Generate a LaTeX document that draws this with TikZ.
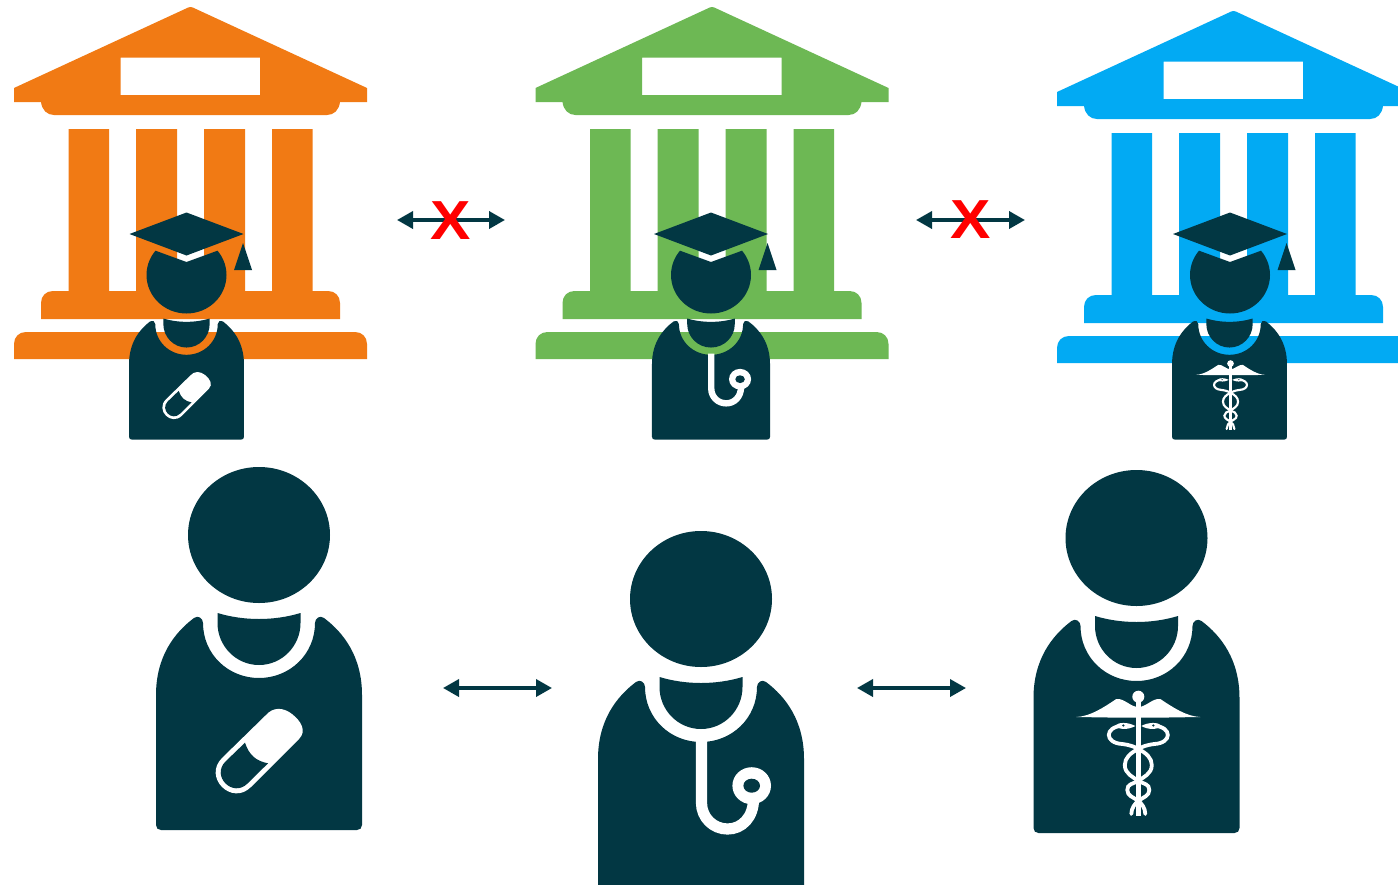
\documentclass[tikz,border=0pt]{standalone}
\usepackage{fontspec}
\usetikzlibrary{arrows.meta}
\newfontfamily\crossfont{Liberation Sans}[BoldFont={Liberation Sans Bold}]
\definecolor{ink}{HTML}{023743}
\definecolor{orangeb}{HTML}{F17A14}
\definecolor{greenb}{HTML}{6DB854}
\definecolor{blueb}{HTML}{02AAF3}
\tikzset{
  link/.style={draw=ink,line width=1.8pt,{Triangle[length=8pt,width=8.5pt]}-{Triangle[length=8pt,width=8.5pt]}},
  crossmark/.style={text=red,inner sep=0pt,font=\crossfont\bfseries\fontsize{27.5}{27.5}\selectfont,xscale=1.1,transform shape}
}
% building in the coordinates of the first one
\newcommand{\temple}[3]{%
\begin{scope}[shift={(#1,#2)}]
\fill[#3] (190.5,7) .. controls (192,7) and (194,8) .. (196,9) -- (367,88) -- (367,102) -- (340,102)
  .. controls (339,110) and (334,115) .. (327,115) -- (54,115) .. controls (47,115) and (42,110) .. (41,102)
  -- (14,102) -- (14,88) -- (185,9) .. controls (187,8) and (189,7) .. (190.5,7) -- cycle
  (120.5,57.5) -- (120.5,95) -- (260,95) -- (260,57.5) -- cycle;
\fill[#3] (68.5,129) rectangle (109,292) (136,129) rectangle (177,292)
  (204,129) rectangle (245,292) (272,129) rectangle (312.5,292);
\fill[#3] (41,319) -- (41,303) .. controls (41,296) and (46,291) .. (53,291) -- (328,291)
  .. controls (335,291) and (340,296) .. (340,303) -- (340,319) -- cycle;
\fill[#3] (14,359) -- (14,344) .. controls (14,337) and (19,332) .. (26,332) -- (355,332)
  .. controls (362,332) and (367,337) .. (367,344) -- (367,359) -- cycle;
\end{scope}}
% torso with neck, origin at the centre of the head
\newcommand{\torso}{%
\fill[ink] (-103,290) -- (-103,160) .. controls (-103,122) and (-85,98) .. (-65,83)
  .. controls (-61,80) and (-56,83) .. (-56,88)
  .. controls (-56,119) and (-31,143) .. (0,143) .. controls (31,143) and (56,119) .. (56,88)
  .. controls (56,83) and (61,80) .. (65,83)
  .. controls (85,98) and (103,122) .. (103,160) -- (103,290)
  .. controls (103,293) and (101,295) .. (98,295) -- (-98,295)
  .. controls (-101,295) and (-103,293) .. (-103,290) -- cycle;
\fill[ink] (-41.5,78) .. controls (-15,86) and (15,86) .. (41.5,78) -- (41.5,88)
  .. controls (41.5,111) and (23,130) .. (0,130) .. controls (-23,130) and (-41.5,111) .. (-41.5,88) -- cycle;}
\newcommand{\bighead}{\fill[ink] (0,0) ellipse[x radius=71,y radius=68];}
% pill, stethoscope, caduceus in torso coordinates (scale in #1)
\newcommand{\pill}{%
\fill[white] (-8,252) -- (40,204) .. controls (48,196) and (42,186) .. (33,179)
  .. controls (24,172) and (14,172) .. (7,180)
  -- (-37,223) .. controls (-56.3,242.3) and (-27.3,271.3) .. (-8,252) -- cycle;
\fill[ink] (9,228.3) -- (-11.5,248.5) .. controls (-26.1,263.1) and (-48.1,241.1) .. (-33.5,226.5)
  -- (-14,207.7) .. controls (-10,220) and (-3,226) .. (9,228.3) -- cycle;}
\newcommand{\stetho}[1]{%
\draw[white,line width={#1*5.6pt}] (0.5,141) -- (0.5,204)
  .. controls (0.5,218.4) and (12.1,230) .. (26.5,230)
  .. controls (40.9,230) and (52.5,218.4) .. (52.5,200);
\fill[white] (50.7,186.7) ellipse[x radius=19.3,y radius=18.5];
\fill[ink] (50.7,186.7) ellipse[x radius=8.3,y radius=7];}
\newcommand{\snake}[1]{%
\draw[white,line width={#1*1.9pt},line cap=round] (-16,187.7)
  .. controls (-34,189) and (-34,205) .. (-16,206)
  .. controls (-8,207) and (-3,209) .. (0,211)
  .. controls (8,215) and (13.5,220) .. (13.5,227)
  .. controls (13.5,236) and (5,239) .. (0,243)
  .. controls (-6,246) and (-11,246) .. (-11,252)
  .. controls (-11,258) and (-5,259) .. (0,263)
  .. controls (3,265) and (7,270) .. (7,276);
\fill[white] (-23,187.5) .. controls (-20,184) and (-10,184) .. (-3,188)
  .. controls (-10,192) and (-20,192) .. (-23,187.5) -- cycle;
\fill[ink] (-15,187.5) ellipse[x radius=1.2,y radius=1.2];
\fill[white] (-62,179) .. controls (-48,178.5) and (-34,169) .. (-22,161)
  .. controls (-14,160) and (-8,169) .. (0,169) -- (0,179.5) -- (-30,179.5) -- cycle;}
\newcommand{\caduceus}[1]{%
\begin{scope}[shift={(1.8,0)}]
\snake{#1}
\begin{scope}[xscale=-1]\snake{#1}\end{scope}
\draw[white,line width={#1*2.2pt}] (0,160) -- (0,278);
\fill[white] (0,158.7) ellipse[x radius=6,y radius=6];
\end{scope}}
% mortarboard head of the small figures
\newcommand{\gradhead}[2]{%
\begin{scope}[shift={(#1,#2)}]
\begin{scope}
\clip (0,-13) -- (85,-44) -- (85,65) -- (-85,65) -- (-85,-44) -- cycle;
\fill[ink] (0,0) ellipse[x radius=40,y radius=38.5];
\end{scope}
\fill[ink] (-57,-41) -- (0,-62.5) -- (57,-41) -- (0,-19.5) -- cycle;
\fill[ink] (56.5,-32) -- (47.5,-5) -- (65.5,-5) -- cycle;
\end{scope}}
\begin{document}
\begin{tikzpicture}[x=0.5pt,y=-0.5pt]
\useasboundingbox (0,0) rectangle (1398,884);
\fill[white] (0,0) rectangle (1398,884);
\clip (0,0) rectangle (1398,884);
% buildings
\temple{0}{0}{orangeb}
\temple{521.5}{0}{greenb}
\temple{1043}{4}{blueb}
% small figures
\begin{scope}[shift={(186.5,275)},scale=0.558]\torso\pill\end{scope}
\gradhead{186.5}{275}
\begin{scope}[shift={(711,275)},xscale=0.573,yscale=0.558]\torso\stetho{0.57}\end{scope}
\gradhead{711}{275}
\begin{scope}[shift={(1229.5,275)},scale=0.558]\torso\caduceus{0.558}\end{scope}
\gradhead{1230}{275}
% large figures
\begin{scope}[shift={(259,535)}]\bighead\torso\pill\end{scope}
\begin{scope}[shift={(701,599)}]\bighead\torso\stetho{1}\end{scope}
\begin{scope}[shift={(1136.5,538)}]\bighead\torso\caduceus{1}\end{scope}
% connectors
\coordinate (t1a) at (397,220);
\coordinate (t1b) at (505,220);
\coordinate (t2a) at (916,220);
\coordinate (t2b) at (1025,220);
\coordinate (b1a) at (443,688);
\coordinate (b1b) at (552,688);
\coordinate (b2a) at (857,688);
\coordinate (b2b) at (966,688);
\draw[link] (t1a) -- (t1b);
\draw[link] (t2a) -- (t2b);
\draw[link] (b1a) -- (b1b);
\draw[link] (b2a) -- (b2b);
\node[crossmark] (x1) at (451,220.5) {X};
\node[crossmark] (x2) at (970.5,220) {X};
\end{tikzpicture}
\end{document}
